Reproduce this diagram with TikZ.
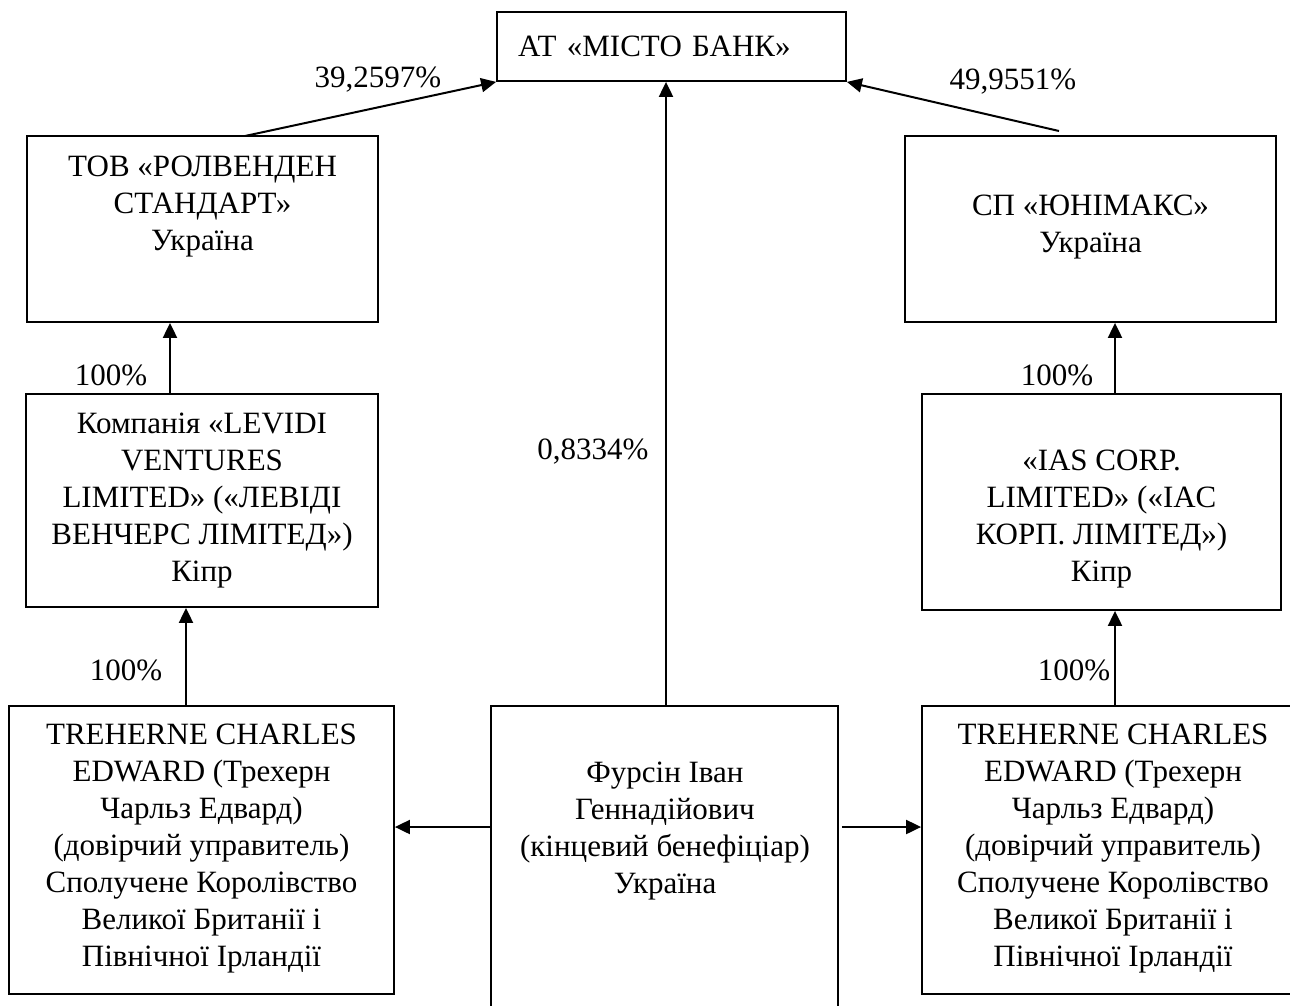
\documentclass[tikz,border=0pt]{standalone}
\usepackage{fontspec}
\setmainfont{Liberation Serif}
\usetikzlibrary{arrows.meta,calc}
\begin{document}
\begin{tikzpicture}[x=1pt,y=-1pt,
  box/.style={draw,line width=1.8pt,rectangle,inner sep=0pt},
  txt/.style={align=center,inner sep=0pt,font=\fontsize{31}{37}\selectfont},
  lbl/.style={inner sep=0pt,font=\fontsize{31}{37}\selectfont},
  arr/.style={line width=2pt,-{Triangle[length=15pt,width=14pt]}}]
\clip (0,0) rectangle (1290,1005);
% boxes
\node[box,minimum width=349pt,minimum height=69pt,text width=307pt,inner xsep=21pt,align=left,
  font=\fontsize{31}{37}\selectfont] (bank) at (671.5,46.5) {АТ «МІСТО БАНК»};
\node[box,minimum width=351pt,minimum height=186pt] (tov) at (202.5,229) {};
\node[box,minimum width=371pt,minimum height=186pt] (sp) at (1090.5,229) {};
\node[box,minimum width=352pt,minimum height=213pt] (levidi) at (202,500.5) {};
\node[box,minimum width=359pt,minimum height=216pt] (ias) at (1101.5,502) {};
\node[box,minimum width=385pt,minimum height=288pt] (trl) at (201.5,850) {};
\node[box,minimum width=347pt,minimum height=330pt] (fur) at (664.5,871) {};
\node[box,minimum width=382pt,minimum height=288pt] (trr) at (1113,850) {};
% texts
\node[txt] (tovt) at (202.5,207) {ТОВ «РОЛВЕНДЕН\\СТАНДАРТ»\\Україна};
\node[txt] (spt) at (1090.5,227) {СП «ЮНІМАКС»\\Україна};
\node[txt] (levidit) at (202,501) {Компанія «LEVIDI\\VENTURES\\LIMITED» («ЛЕВІДІ\\ВЕНЧЕРС ЛІМІТЕД»)\\Кіпр};
\node[txt] (iast) at (1101.5,519) {«IAS CORP.\\LIMITED» («IAC\\КОРП. ЛІМІТЕД»)\\Кіпр};
\node[txt] (trlt) at (201.5,849) {TREHERNE CHARLES\\EDWARD (Трехерн\\Чарльз Едвард)\\(довірчий управитель)\\Сполучене Королівство\\Великої Британії і\\Північної Ірландії};
\node[txt] (furt) at (665,831) {Фурсін Іван\\Геннадійович\\(кінцевий бенефіціар)\\Україна};
\node[txt] (trrt) at (1113,849) {TREHERNE CHARLES\\EDWARD (Трехерн\\Чарльз Едвард)\\(довірчий управитель)\\Сполучене Королівство\\Великої Британії і\\Північної Ірландії};
% helper coordinates
\coordinate (tovout) at (245,136);
\coordinate (spout) at (1059,131);
\coordinate (xl1) at (170,0);
\coordinate (xl2) at (186,0);
\coordinate (xr) at (1115,0);
\coordinate (xm) at (666,0);
\coordinate (ly) at (0,827);
% connectors
\draw[arr] (tovout) -- (bank.south west);
\draw[arr] (spout) -- (bank.south east);
\draw[arr] (fur.north -| xm) -- (bank.south -| xm);
\draw[arr] (levidi.north -| xl1) -- (tov.south -| xl1);
\draw[arr] (trl.north -| xl2) -- (levidi.south -| xl2);
\draw[arr] (ias.north -| xr) -- (sp.south -| xr);
\draw[arr] (trr.north -| xr) -- (ias.south -| xr);
\draw[arr] (fur.west |- ly) -- (trl.east |- ly);
\draw[arr] ([xshift=3pt]fur.east |- ly) -- (trr.west |- ly);
% labels
\node[lbl] (l1) at (378,80) {39,2597\%};
\node[lbl] (l2) at (1013,82) {49,9551\%};
\node[lbl] (l3) at (593,452) {0,8334\%};
\node[lbl] (l4) at (111,375) {100\%};
\node[lbl] (l5) at (126,670) {100\%};
\node[lbl] (l6) at (1057,375) {100\%};
\node[lbl] (l7) at (1074,670) {100\%};
\end{tikzpicture}
\end{document}
